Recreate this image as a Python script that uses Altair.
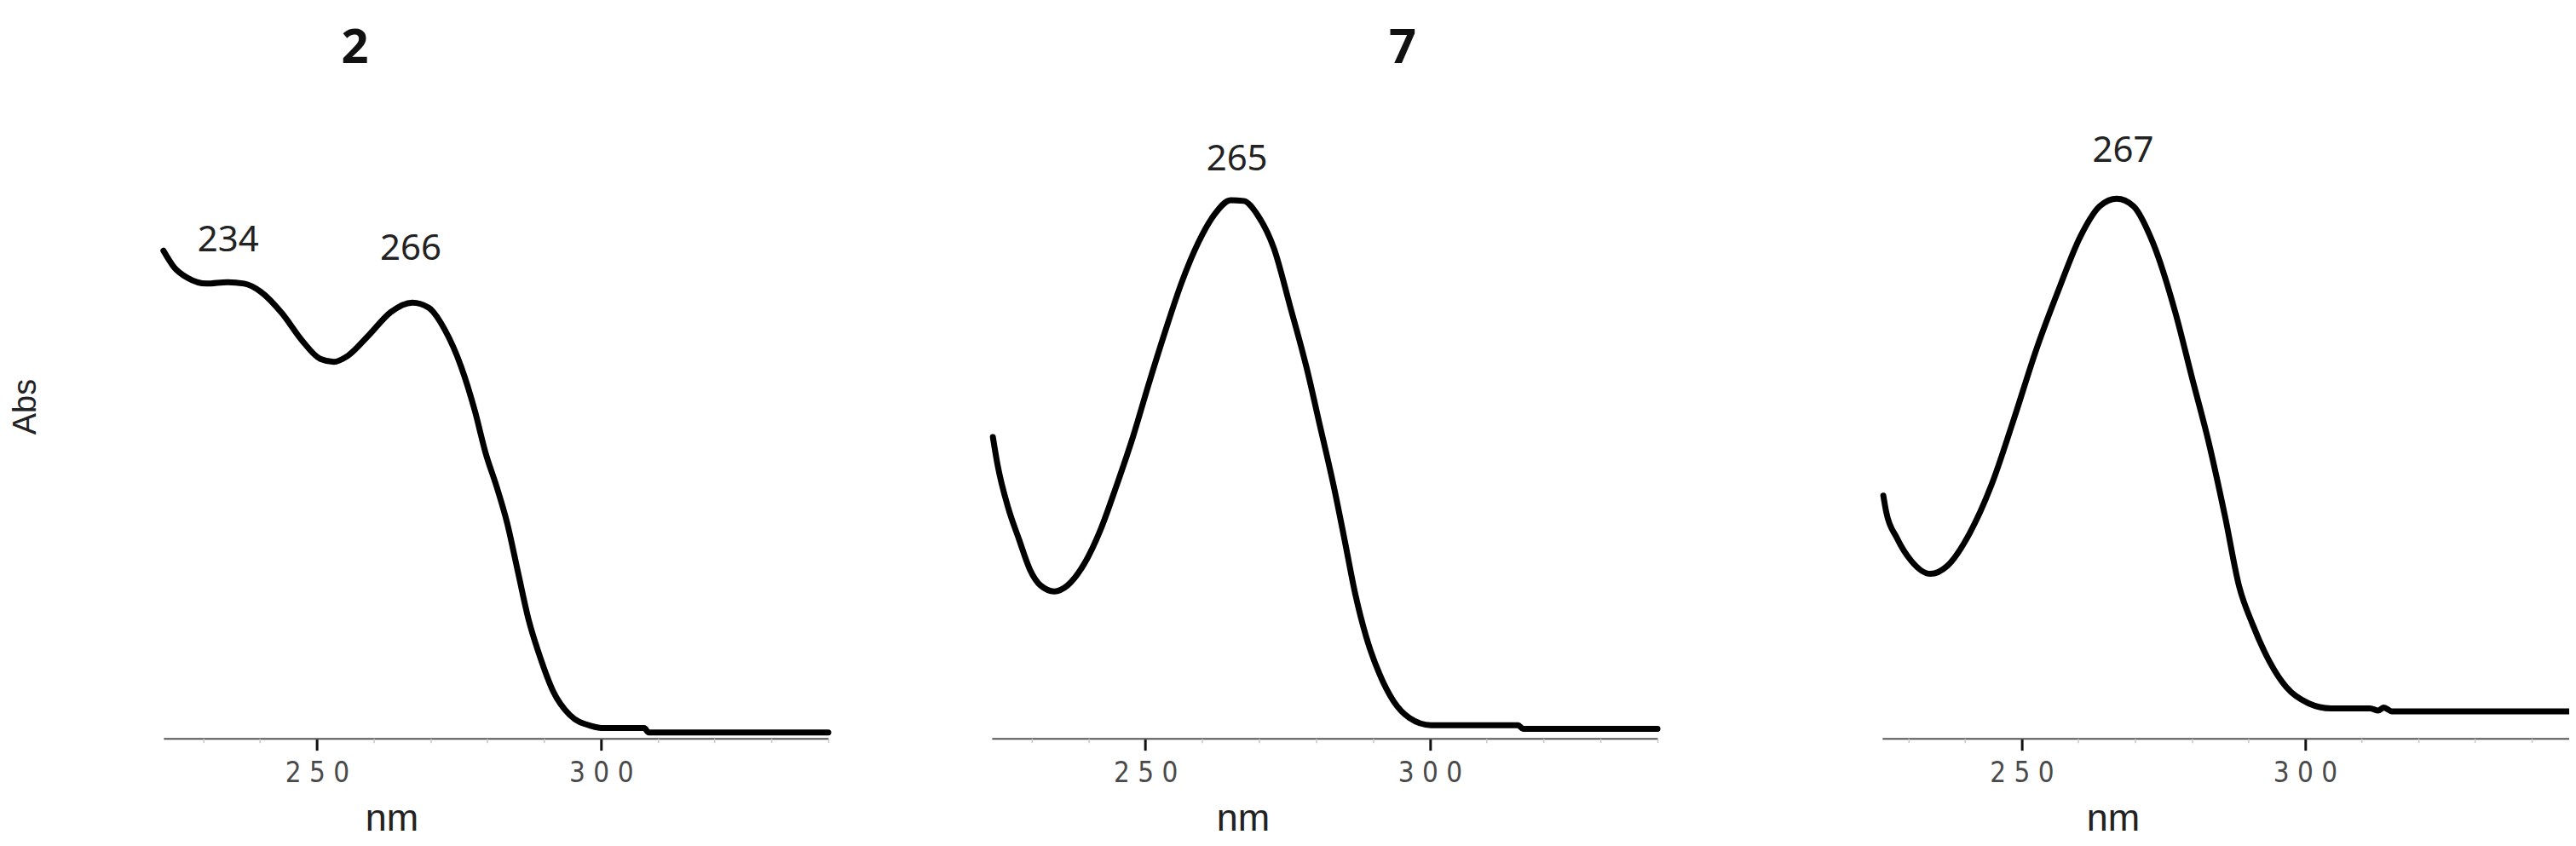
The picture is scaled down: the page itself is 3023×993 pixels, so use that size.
import altair as alt
import pandas as pd

# ---------------- data ----------------
# Panel 1 (compound 2)
nm1 = [223.0, 224.9, 227.2, 230.6, 234.3, 237.2, 240.1, 243.9, 247.3, 250.6,
       253.0, 255.4, 259.2, 263.0, 266.8, 269.7, 272.5, 275.4, 277.8, 279.7,
       281.6, 283.5, 285.4, 287.3, 289.2, 291.6, 294.5, 298.3, 300.5, 307.6,
       308.4, 340.0]
abs1 = [0.667, 0.644, 0.630, 0.622, 0.624, 0.622, 0.611, 0.581, 0.545, 0.519,
        0.515, 0.523, 0.552, 0.583, 0.596, 0.589, 0.559, 0.508, 0.448, 0.390,
        0.345, 0.294, 0.227, 0.161, 0.113, 0.064, 0.032, 0.017, 0.014, 0.014,
        0.008, 0.008]

# Panel 2 (compound 7)
nm2 = [223.2, 224.0, 225.9, 227.8, 229.7, 231.6, 234.0, 236.3, 239.2, 242.1,
       244.9, 247.8, 250.6, 253.5, 256.4, 259.3, 262.1, 265.0, 267.3, 269.7,
       272.6, 275.4, 278.3, 280.7, 283.1, 285.0, 286.9, 288.8, 291.2, 293.6,
       296.4, 300.2, 315.5, 316.4, 340.0]
abs2 = [0.412, 0.375, 0.315, 0.272, 0.231, 0.209, 0.201, 0.209, 0.238, 0.285,
        0.345, 0.412, 0.485, 0.557, 0.624, 0.678, 0.716, 0.736, 0.735, 0.716,
        0.670, 0.592, 0.508, 0.427, 0.345, 0.272, 0.197, 0.139, 0.087, 0.051,
        0.028, 0.018, 0.018, 0.013, 0.013]

# Panel 3
nm3 = [225.6, 226.1, 228.0, 230.5, 233.9, 236.9, 240.8, 244.7, 248.6, 252.6,
       256.5, 260.4, 263.8, 266.8, 269.7, 273.1, 277.1, 280.0, 283.0, 285.9,
       288.4, 290.8, 293.8, 296.7, 300.6, 304.6, 311.5, 312.9, 313.9, 315.3,
       346.6]
abs3 = [0.332, 0.310, 0.274, 0.243, 0.225, 0.236, 0.280, 0.347, 0.436, 0.532,
        0.613, 0.687, 0.728, 0.738, 0.728, 0.679, 0.583, 0.495, 0.405, 0.303,
        0.207, 0.155, 0.104, 0.070, 0.048, 0.041, 0.041, 0.038, 0.042, 0.037,
        0.037]

# peak labels
peak_text = [["234", "266"], ["265"], ["267"]]
peak_x = [[234.4, 266.5], [266.1], [267.9]]
peak_y = [[0.681, 0.670], [0.792], [0.804]]

# panel titles (compound numbers)
title_text = [["2"], ["7"], []]
title_x = [[256.7], [295.2], []]
title_y = [[0.943], [0.944], []]

# axis set-up
domains = [[223, 340], [223, 340], [225.4, 346.6]]
major_ticks = [250, 300]
minor_ticks = [230, 240, 260, 270, 280, 290, 310, 320, 330, 340]

# ---------------- layout / style ----------------
W, H = 2950, 859
ranges = [[124, 905], [1097, 1879], [2143, 2950]]
nm_title_x = [392, 1392, 2414]

LABEL_FONT = "Liberation Sans Narrow, DejaVu Sans Condensed, sans-serif"
TEXT_FONT = "Noto Sans, Open Sans, sans-serif"
AXIS_TITLE_FONT = "Liberation Sans, Arial, sans-serif"

curves = [(nm1, abs1), (nm2, abs2), (nm3, abs3)]

Y_SCALE = alt.Scale(domain=[0, 1], nice=False, zero=False)

layers = []
for i in range(3):
    xs = alt.Scale(domain=domains[i], range=ranges[i], nice=False, zero=False)
    df = pd.DataFrame({"nm": curves[i][0], "abs": curves[i][1]})

    major_axis = alt.Axis(
        orient="bottom", values=major_ticks, grid=False,
        tickSize=14, tickWidth=3, tickColor="#111111",
        domainColor="#555555", domainWidth=2,
        labelFont=LABEL_FONT, labelFontSize=33, labelColor="#4a4a4a",
        labelBaseline="alphabetic", labelPadding=37,
        labelExpr="join(split(datum.label, ''), ' ')",
        labelFlush=False, labelOverlap=False,
        title="nm", titleFont=AXIS_TITLE_FONT, titleFontSize=45,
        titleFontWeight="normal", titleColor="#222222",
        titleX=nm_title_x[i], titleY=108, titleBaseline="alphabetic",
        titleAlign="center",
    )
    if i == 0:
        y_axis = alt.Axis(
            title="Abs", labels=False, ticks=False, domain=False, grid=False,
            titleFont=AXIS_TITLE_FONT, titleFontSize=38, titleFontWeight="normal",
            titleColor="#222222", titleAngle=270, titleX=-37, titleY=469,
            titleAlign="center", titleBaseline="middle",
        )
    else:
        y_axis = None

    line = alt.Chart(df).mark_line(
        color="black", strokeWidth=7, interpolate="monotone",
        strokeCap="round", strokeJoin="round",
    ).encode(
        x=alt.X("nm:Q", scale=xs, axis=major_axis),
        y=alt.Y("abs:Q", scale=Y_SCALE, axis=y_axis),
    )
    layers.append(line)

    pk = pd.DataFrame({"x": peak_x[i], "y": peak_y[i], "t": peak_text[i]})
    minor_axis = alt.Axis(
        orient="bottom", values=minor_ticks, grid=False, labels=False,
        domain=False, title=None, tickSize=5, tickWidth=1.5,
        tickColor="#c8c8c8",
    )
    peaks = alt.Chart(pk).mark_text(
        font=TEXT_FONT, fontSize=42, color="#222222",
        align="center", baseline="middle",
    ).encode(
        x=alt.X("x:Q", scale=xs, axis=minor_axis),
        y=alt.Y("y:Q", scale=Y_SCALE, axis=None),
        text="t:N",
    )
    layers.append(peaks)

    if title_text[i]:
        tt = pd.DataFrame({"x": title_x[i], "y": title_y[i], "t": title_text[i]})
        ttl = alt.Chart(tt).mark_text(
            font=TEXT_FONT, fontSize=56, fontWeight="bold", color="#111111",
            align="center", baseline="middle",
        ).encode(
            x=alt.X("x:Q", scale=xs, axis=None),
            y=alt.Y("y:Q", scale=Y_SCALE, axis=None),
            text="t:N",
        )
        layers.append(ttl)

chart = alt.layer(*layers).resolve_scale(
    x="independent", y="independent"
).resolve_axis(
    x="independent", y="independent"
).properties(
    width=W, height=H,
    padding={"left": 60, "top": 0, "right": 0, "bottom": 118},
    autosize=alt.AutoSizeParams(type="none"),
    background="white",
).configure_view(stroke=None)

chart.save("out.html", embed_options={"renderer": "svg", "actions": False})
